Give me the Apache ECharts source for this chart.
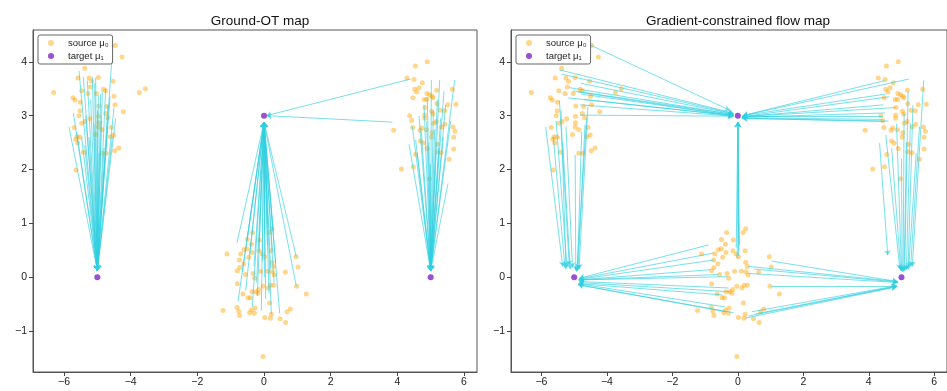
<!DOCTYPE html>
<html>
<head>
<meta charset="utf-8">
<script src="https://cdn.jsdelivr.net/npm/echarts@6/dist/echarts.min.js"></script>
<style>
  html, body { margin: 0; padding: 0; background: #fff; }
  #main { width: 947px; height: 391px; }
</style>
</head>
<body>
<div id="main"></div>
<script>
// source samples (same in both panels)
var sourcePts = [
  // left cluster
  [-4.46,4.30],[-5.98,4.00],[-4.26,4.09],[-5.38,3.88],[-5.58,3.70],[-5.25,3.70],[-4.97,3.71],
  [-5.17,3.64],[-4.53,3.64],[-5.21,3.53],[-5.47,3.46],[-4.82,3.49],[-4.75,3.46],[-6.31,3.43],
  [-5.28,3.41],[-5.03,3.41],[-4.50,3.36],[-3.74,3.43],[-3.56,3.50],[-5.73,3.33],[-5.67,3.29],
  [-5.51,3.25],[-4.95,3.18],[-4.71,3.17],[-4.47,3.20],[-5.52,3.09],[-5.55,3.00],[-4.96,2.99],
  [-4.75,3.04],[-4.22,3.07],[-5.23,2.94],[-5.37,2.89],[-5.47,2.86],[-4.96,2.87],[-4.68,2.96],
  [-5.70,2.78],[-4.97,2.79],[-4.86,2.74],[-4.58,2.78],[-5.05,2.65],[-4.51,2.64],[-4.61,2.61],
  [-5.61,2.61],[-5.52,2.60],[-5.65,2.56],[-5.59,2.49],[-5.42,2.32],[-4.86,2.30],[-4.73,2.30],
  [-4.48,2.35],[-4.36,2.40],[-5.64,1.99],
  // middle cluster
  [-0.03,-1.47],[0.24,0.90],[0.16,0.83],[-0.34,0.83],[-0.50,0.70],[-0.14,0.69],[-0.38,0.61],
  [-0.51,0.53],[-0.60,0.51],[-1.11,0.43],[-0.70,0.43],[-0.05,0.43],[-0.15,0.49],[0.22,0.49],
  [-0.36,0.46],[0.02,0.38],[-0.46,0.37],[-0.74,0.32],[0.96,0.38],[-0.61,0.25],[0.24,0.28],
  [0.29,0.20],[-0.73,0.18],[1.02,0.19],[-0.80,0.12],[-0.10,0.11],[0.11,0.11],[-0.33,0.07],
  [0.25,0.10],[-0.56,0.05],[0.31,0.04],[0.64,0.09],[-0.28,-0.02],[-0.80,-0.12],[-0.03,-0.17],
  [0.19,-0.15],[0.29,-0.15],[0.98,-0.17],[0.13,-0.20],[-0.16,-0.23],[-0.36,-0.27],[-0.24,-0.27],
  [-0.18,-0.30],[-0.63,-0.31],[1.27,-0.31],[-0.48,-0.38],[-0.41,-0.38],[0.17,-0.48],[-0.81,-0.56],
  [-0.27,-0.57],[-1.23,-0.62],[-0.76,-0.63],[-0.38,-0.61],[0.79,-0.59],[0.69,-0.64],[-0.29,-0.67],
  [-0.43,-0.66],[-0.73,-0.71],[0.22,-0.69],[0.02,-0.75],[0.19,-0.76],[0.48,-0.77],[0.65,-0.84],
  // right cluster
  [4.90,4.00],[4.54,3.92],[4.29,3.70],[4.50,3.67],[4.75,3.61],[4.65,3.52],[4.52,3.49],[4.58,3.44],
  [5.65,3.49],[5.18,3.47],[4.89,3.41],[4.97,3.39],[5.04,3.36],[4.81,3.30],[4.88,3.30],[5.07,3.33],
  [4.47,3.33],[5.19,3.22],[5.51,3.20],[5.76,3.21],[4.83,3.15],[5.03,3.08],[5.29,3.10],[5.42,3.09],
  [4.37,3.00],[4.82,3.01],[5.07,3.03],[4.43,2.91],[4.82,2.95],[5.17,2.89],[5.09,2.86],[5.43,2.84],
  [5.33,2.79],[5.67,2.79],[4.46,2.78],[4.73,2.77],[3.89,2.73],[4.87,2.74],[4.68,2.73],[5.73,2.71],
  [5.04,2.68],[5.02,2.60],[5.69,2.60],[4.69,2.53],[4.77,2.49],[5.21,2.47],[5.69,2.38],[4.90,2.39],
  [5.19,2.33],[5.32,2.31],[4.55,2.28],[5.55,2.19],[4.48,2.05],[4.12,2.01],[4.96,1.83]
];
var targetPts = [[-5, 0], [0, 3], [5, 0]];

// arrows [x0, y0, x1, y1]
var otArrows = [
  [-5.85,2.79,-5,0.12],[-5.55,3.83,-5,0.12],[-5.42,3.72,-5,0.12],[-5.30,3.65,-5,0.12],
  [-5.15,3.72,-5,0.12],[-5.08,3.60,-5,0.12],[-4.97,3.38,-5,0.12],[-4.85,3.45,-5,0.12],
  [-4.75,3.50,-5,0.12],[-4.57,4.00,-5,0.12],[-4.62,3.35,-5,0.12],[-4.50,3.15,-5,0.12],
  [-4.45,2.95,-5,0.12],[-4.68,3.20,-5,0.12],[-4.90,3.40,-5,0.12],[-5.62,2.70,-5,0.12],
  [-5.47,2.60,-5,0.12],[-5.38,2.45,-5,0.12],[-5.25,2.60,-5,0.12],[-5.10,2.85,-5,0.12],
  [-5.00,3.10,-5,0.12],[-4.80,2.40,-5,0.12],[-4.70,2.80,-5,0.12],[-5.20,3.30,-5,0.12],
  [-5.35,3.00,-5,0.12],[-4.95,2.30,-5,0.12],[-4.55,2.60,-5,0.12],[-5.72,3.05,-5,0.12],
  [-5.05,3.70,-5,0.12],[-4.88,2.90,-5,0.12],
  [-0.81,0.64,0,2.88],[-0.78,-0.45,0,2.88],[-0.65,0.10,0,2.88],[-0.55,-0.25,0,2.88],
  [-0.42,0.45,0,2.88],[-0.35,-0.55,0,2.88],[-0.30,0.20,0,2.88],[-0.22,-0.10,0,2.88],
  [-0.15,0.55,0,2.88],[-0.08,-0.62,0,2.88],[-0.05,0.30,0,2.88],[0.02,0.00,0,2.88],
  [0.05,-0.40,0,2.88],[0.10,0.60,0,2.88],[0.15,-0.30,0,2.88],[0.20,0.15,0,2.88],
  [0.22,-0.68,0,2.88],[0.25,0.50,0,2.88],[0.30,-0.10,0,2.88],[0.35,0.25,0,2.88],
  [0.47,-0.67,0,2.88],[0.97,0.38,0,2.88],[0.97,-0.17,0,2.88],[-0.50,0.70,0,2.88],
  [0.00,0.80,0,2.88],[-0.20,-0.35,0,2.88],[0.12,0.90,0,2.88],[0.28,0.85,0,2.88],
  [4.40,3.68,0.07,3.0],[3.85,2.88,0.07,3.0],
  [4.35,2.47,5,0.12],[4.45,2.80,5,0.12],[4.55,2.55,5,0.12],[4.65,3.00,5,0.12],
  [4.72,2.70,5,0.12],[4.80,3.20,5,0.12],[4.88,2.90,5,0.12],[4.95,2.50,5,0.12],
  [5.02,3.66,5,0.12],[5.08,3.10,5,0.12],[5.12,2.75,5,0.12],[5.20,3.30,5,0.12],
  [5.27,3.66,5,0.12],[5.30,2.95,5,0.12],[5.38,2.60,5,0.12],[5.45,3.20,5,0.12],
  [5.52,1.74,5,0.12],[5.60,2.90,5,0.12],[5.72,3.66,5,0.12],[5.15,2.30,5,0.12],
  [5.00,2.10,5,0.12],[4.90,3.35,5,0.12],[5.25,2.40,5,0.12],[4.60,2.30,5,0.12],
  [5.40,3.45,5,0.12]
];

var flowArrows = [
  // left cluster -> top target
  [-4.50,4.31,-0.25,3.10],[-5.45,3.85,-0.15,3.05],[-5.38,3.77,-0.15,3.04],[-5.15,3.52,-0.12,3.02],
  [-5.03,3.46,-0.12,3.02],[-4.88,3.44,-0.15,3.00],[-4.78,3.40,-0.12,3.00],[-5.18,3.33,-0.15,3.00],
  [-4.82,3.20,-0.12,2.99],[-4.82,3.01,-0.15,2.99],[-4.80,3.60,-0.12,3.03],[-4.70,3.30,-0.15,3.00],
  // left cluster -> bottom-left target
  [-5.87,2.79,-5.35,0.20],[-5.64,2.61,-5.28,0.18],[-5.55,2.90,-5.22,0.20],[-5.45,3.28,-5.15,0.22],
  [-5.35,2.50,-5.12,0.15],[-5.25,2.80,-5.05,0.18],[-4.97,2.27,-4.95,0.12],[-4.77,2.70,-4.90,0.12],
  [-4.67,2.83,-4.88,0.15],[-4.58,3.17,-4.85,0.15],[-4.62,2.95,-4.92,0.10],[-5.40,3.10,-5.25,0.15],
  // middle cluster -> top target
  [-0.05,0.55,0,2.88],[0.00,0.40,0,2.88],[0.05,0.60,0,2.88],[-0.02,0.35,0,2.88],[0.03,0.50,0,2.88],
  // middle cluster -> left target
  [-0.89,0.60,-4.85,-0.02],[-0.73,0.45,-4.85,-0.03],[-0.73,0.32,-4.85,-0.04],[-0.83,0.14,-4.88,-0.05],
  [-0.32,0.01,-4.85,-0.05],[-0.28,-0.20,-4.85,-0.08],[-0.23,-0.27,-4.85,-0.10],[-0.47,-0.33,-4.85,-0.12],
  [-0.13,-0.66,-4.88,-0.14],[-0.38,-0.64,-4.88,-0.14],[-0.40,-0.55,-4.88,-0.12],[-0.60,0.05,-4.85,-0.05],
  // middle cluster -> right target
  [1.03,0.30,4.88,-0.08],[0.33,0.20,4.88,-0.08],[0.33,0.07,4.90,-0.10],[0.50,0.15,4.88,-0.09],
  [1.03,-0.17,4.88,-0.17],[0.22,-0.76,4.85,-0.18],[0.33,-0.72,4.85,-0.17],[0.43,-0.64,4.85,-0.16],
  [0.55,-0.68,4.85,-0.17],
  // right cluster -> top target
  [5.23,3.68,0.15,3.00],[4.48,3.65,0.15,3.00],[4.63,3.35,0.13,2.98],[4.82,3.15,0.13,2.98],
  [4.43,2.98,0.12,2.98],[4.41,2.93,0.12,2.96],[4.48,2.89,0.13,2.95],[4.45,3.20,0.13,2.98],
  [4.50,3.05,0.12,2.97],[4.60,2.90,0.13,2.95],[4.50,3.40,0.15,3.00],
  // right cluster -> bottom-right target
  [4.33,2.49,4.58,0.41],[4.52,2.64,4.95,0.15],[4.70,2.40,4.98,0.12],[4.85,2.85,5.00,0.12],
  [5.08,3.04,5.05,0.10],[5.15,2.50,5.08,0.12],[5.27,2.86,5.15,0.14],[5.35,3.20,5.20,0.14],
  [5.45,2.30,5.22,0.18],[5.55,2.80,5.28,0.20],[5.68,3.66,5.33,0.20],[5.00,2.20,5.02,0.10],
  [5.20,3.45,5.10,0.12]
];

var xTicks = [-6, -4, -2, 0, 2, 4, 6];
var yTicks = [-1, 0, 1, 2, 3, 4];
var titles = ['Ground-OT map', 'Gradient-constrained flow map'];

var chart = echarts.init(document.getElementById('main'));

function fmt(v) {
  return v < 0 ? '\u2212' + Math.abs(v) : String(v);
}

var panelLeft = [33, 511];
var grids = [], xAxes = [], yAxes = [], series = [], legends = [], titleList = [];

panelLeft.forEach(function (left, i) {
  grids.push({
    left: left, top: 30, width: 444, height: 342,
    show: true, borderColor: '#555', borderWidth: 1
  });
  xAxes.push({
    type: 'value', gridIndex: i, min: -6.93, max: 6.39,
    splitLine: { show: false },
    axisLine: { onZero: false, lineStyle: { color: '#555' } },
    axisTick: { customValues: xTicks, length: 4, lineStyle: { color: '#444' } },
    axisLabel: { customValues: xTicks, formatter: fmt, color: '#222', fontSize: 10.5, margin: 5 }
  });
  yAxes.push({
    type: 'value', gridIndex: i, min: -1.76, max: 4.59,
    splitLine: { show: false },
    axisLine: { onZero: false, lineStyle: { color: '#555' } },
    axisTick: { customValues: yTicks, length: 4, lineStyle: { color: '#444' } },
    axisLabel: { customValues: yTicks, formatter: fmt, color: '#222', fontSize: 10.5, margin: 6 }
  });
  titleList.push({
    text: titles[i], left: left + 222, top: 9, textAlign: 'center',
    textStyle: { fontSize: 13.5, fontWeight: 'normal', color: '#111' }
  });
  legends.push({
    left: left + 5, top: 35, orient: 'vertical',
    data: ['source \u03bc\u2080', 'target \u03bc\u2081'],
    icon: 'circle', itemWidth: 20, itemHeight: 6, itemGap: 3,
    padding: [3, 4, 3, 10],
    borderColor: '#666', borderWidth: 1, borderRadius: 2,
    backgroundColor: 'rgba(255,255,255,0.85)',
    textStyle: { fontSize: 9.5, color: '#222', padding: [0, 0, 0, 2] }
  });

  series.push({
    name: 'source \u03bc\u2080', type: 'scatter', xAxisIndex: i, yAxisIndex: i,
    data: sourcePts, symbolSize: 5, z: 2,
    itemStyle: { color: '#ffa500', opacity: 0.45 }
  });
  var arrows = i === 0 ? otArrows : flowArrows;
  series.push({
    type: 'lines', coordinateSystem: 'cartesian2d', xAxisIndex: i, yAxisIndex: i,
    data: arrows.map(function (a) { return { coords: [[a[0], a[1]], [a[2], a[3]]] }; }),
    symbol: ['none', 'arrow'], symbolSize: 5, z: 3,
    lineStyle: { color: '#2fd0e0', width: 1, opacity: 0.65, curveness: 0 }
  });
  series.push({
    name: 'target \u03bc\u2081', type: 'scatter', xAxisIndex: i, yAxisIndex: i,
    data: targetPts, symbolSize: 6, z: 4,
    itemStyle: { color: '#9b4fd3', opacity: 1 }
  });
});

chart.setOption({
  animation: false,
  title: titleList,
  legend: legends,
  grid: grids,
  xAxis: xAxes,
  yAxis: yAxes,
  series: series
});
</script>
</body>
</html>
